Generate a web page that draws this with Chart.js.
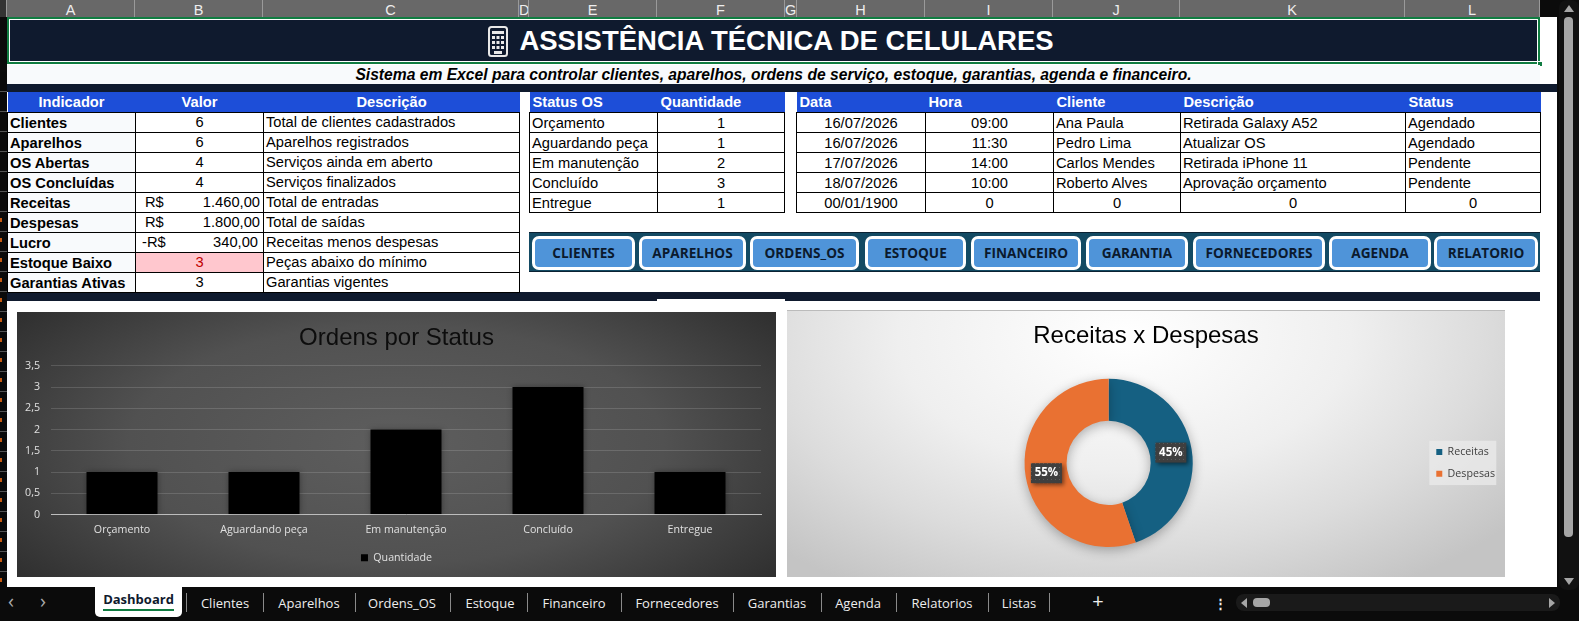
<!DOCTYPE html>
<html lang="pt-BR">
<head>
<meta charset="utf-8">
<title>Assistência Técnica de Celulares</title>
<script src="https://cdn.jsdelivr.net/npm/chart.js@4"></script>
<style>
  html, body { margin: 0; padding: 0; background: #0b0b0b; overflow: hidden; }
  body { width: 1579px; height: 621px; position: relative; font-family: "Liberation Sans", Arial, sans-serif; color: #000; }
  .abs { position: absolute; }
  #sheet { left: 7px; top: 17px; width: 1550px; height: 570px; background: #fff; }
  #rowstrip { left: 0; top: 72px; width: 7px; height: 515px; background: repeating-linear-gradient(#0a0a0a 0 19px, #555 19px 20px); }
  #rowmarks { left: 0; top: 212px; width: 2px; height: 375px; background: repeating-linear-gradient(transparent 0 6px, #c55a11 6px 10px, transparent 10px 20px); }
  .colhead { position: absolute; top: 0; height: 17px; background: #686868; border-right: 1px solid #9a9a9a; box-sizing: border-box; color: #eee; font-size: 14.5px; line-height: 20px; text-align: center; overflow: hidden; }
  #titlebar { left: 7px; top: 17px; width: 1533px; height: 47px; box-sizing: border-box; padding-right: 5px; background: #0f1a2e; border: 2px solid #107c41; outline: 1px solid #fff; outline-offset: -3px; color: #fff; font-weight: bold; font-size: 27.5px; line-height: 43px; text-align: center; }
  #titlebar svg { vertical-align: -7px; margin-right: 11px; }
  #handle { left: 1537px; top: 61px; width: 6px; height: 6px; background: #107c41; border: 1px solid #fff; box-sizing: border-box; }
  #subtitle { left: 7px; top: 65px; width: 1533px; height: 19px; background: #f8fafc; font-weight: bold; font-style: italic; font-size: 15.65px; line-height: 19px; text-align: center; }
  .navy { background: #0f1a2e; }
  table { position: absolute; border-collapse: collapse; table-layout: fixed; font-size: 14.7px; }
  th { background: #1d4ed8; color: #fff; font-weight: bold; height: 20px; padding: 0 3px; text-align: left; line-height: 19px; }
  th.c { text-align: center; }
  td { border: 1px solid #000; height: 19px; padding: 0 2px; line-height: 19px; white-space: nowrap; overflow: hidden; }
  td.c { text-align: center; }
  td.k { font-weight: bold; background: #f8fafc; }
  td.low { background: #ffc7ce; color: #c00000; }
  td.money { padding: 0 3px 0 9px; }
  td.neg { padding: 0 5px 0 6px; }
  #kpi td.k, #status td, #agenda td { padding-top: 2px; line-height: 17px; height: 17px; }
  .cur { float: left; }
  .amt { float: right; }
  #btnstrip { left: 529px; top: 232px; width: 1011px; height: 40px; background: #134a63; border-top: 1px solid #0b2233; border-bottom: 1px solid #0b2233; box-sizing: border-box; }
  .btn { position: absolute; top: 236px; height: 34px; box-sizing: border-box; background: #4f94d9; border: 3px solid #fff; border-radius: 7px; color: #0b1a2e; font-family: "Open Sans", sans-serif; font-weight: bold; font-size: 13.6px; line-height: 27px; text-align: center; }
  .chartbox { position: absolute; }
  .chartbox canvas { display: block; }
  #box1 { left: 17px; top: 312px; width: 759px; height: 265px; background: radial-gradient(ellipse 64% 82% at 50% 50%, #5e5e5e 0%, #515151 55%, #2e2e2e 100%); }
  #box2 { left: 787px; top: 310px; width: 718px; height: 267px; background: radial-gradient(ellipse 70% 110% at 47% 10%, #ffffff 0%, #efefef 45%, #dcdcdc 72%, #c4c4c4 100%); border-top: 1px solid #bbb; box-sizing: border-box; }
  #tabs { left: 0; top: 587px; width: 1579px; height: 34px; background: #0b0b0b; font-family: "Open Sans", sans-serif; font-size: 13px; color: #eee; }
  .tab { position: absolute; top: 7px; transform: translateX(-50%); line-height: 18px; white-space: nowrap; }
  .sep { position: absolute; top: 6px; width: 1px; height: 19px; background: #8a8a8a; }
  #activetab { position: absolute; left: 95px; top: 0; width: 87px; height: 30px; background: #fff; border-radius: 0 0 5px 5px; color: #0f1a2e; font-weight: bold; text-align: center; line-height: 18px; padding-top: 3px; box-sizing: border-box; }
  #activetab i { position: absolute; left: 8px; right: 8px; top: 22px; height: 2px; background: #107c41; }
  #hscroll { left: 1236px; top: 594px; width: 324px; height: 17px; background: #1a1a1a; border-radius: 8px; }
  #hthumb { left: 1253px; top: 598px; width: 17px; height: 9px; background: #a6a6a6; border-radius: 4px; }
  #vscroll { left: 1559px; top: 0; width: 20px; height: 590px; background: #111; border-radius: 8px; }
  #vthumb { left: 1564px; top: 17px; width: 9px; height: 520px; background: #a6a6a6; border-radius: 4px; }
  .tri { position: absolute; width: 0; height: 0; border-style: solid; border-color: transparent; }
</style>
</head>
<body>
<div class="abs" id="sheet"></div>
<div class="abs" id="rowstrip"></div>
<div class="abs" id="rowmarks"></div>
<div id="colheads"></div>
<div class="abs" id="titlebar"><svg width="20" height="31" viewBox="0 0 20 31"><rect x="1" y="1" width="18" height="29" rx="2.5" fill="#0f1a2e" stroke="#e8e8e8" stroke-width="2"/><path d="M4 5h12v3H4zM4 10h3v3H4zM8.500 10h3v3h-3zM13 10h3v3h-3zM4 15h3v3H4zM8.500 15h3v3h-3zM13 15h3v3h-3zM4 20h3v3H4zM8.500 20h3v3h-3zM13 20h3v3h-3z" fill="#e8e8e8"/><rect x="6" y="25" width="8" height="3" fill="#e8e8e8"/></svg><span id="titletext">ASSISTÊNCIA TÉCNICA DE CELULARES</span></div>
<div class="abs" id="handle"></div>
<div class="abs" id="subtitle">Sistema em Excel para controlar clientes, aparelhos, ordens de serviço, estoque, garantias, agenda e financeiro.</div>
<div class="abs navy" style="left:7px;top:84px;width:1550px;height:8px"></div>
<div class="abs navy" style="left:7px;top:292px;width:1533px;height:9px"></div>
<div class="abs" style="left:657px;top:299px;width:128px;height:2px;background:#fff"></div>

<table id="kpi" style="left:7px;top:92px;width:512px"></table>
<table id="status" style="left:529px;top:92px;width:255px"></table>
<table id="agenda" style="left:796px;top:92px;width:744px"></table>
<div class="abs" id="btnstrip"></div>
<div id="btns"></div>

<div class="chartbox" id="box1"><canvas id="barChart" width="759" height="265"></canvas></div>
<div class="chartbox" id="box2"><canvas id="donutChart" width="718" height="266"></canvas></div>

<div class="abs" id="tabs"><div id="activetab">Dashboard<i></i></div></div>
<div class="abs" id="hscroll"></div>
<div class="abs" id="hthumb"></div>
<div class="abs" id="vscroll"></div>
<div class="abs" id="vthumb"></div>
<div class="tri" style="left:1241px;top:598px;border-width:5px 6px 5px 0;border-right-color:#a6a6a6"></div>
<div class="tri" style="left:1549px;top:598px;border-width:5px 0 5px 6px;border-left-color:#a6a6a6"></div>
<div class="tri" style="left:1564px;top:5px;border-width:0 5px 7px 5px;border-bottom-color:#a6a6a6"></div>
<div class="tri" style="left:1564px;top:578px;border-width:7px 5px 0 5px;border-top-color:#a6a6a6"></div>

<script>
// Chart data
const statusLabels = ['Orçamento', 'Aguardando peça', 'Em manutenção', 'Concluído', 'Entregue'];
const statusValues = [1, 1, 2, 3, 1];
const financeLabels = ['Receitas', 'Despesas'];
const financeValues = [1460, 1800];

// Sheet cells
const columnNames = ['A', 'B', 'C', 'D', 'E', 'F', 'G', 'H', 'I', 'J', 'K', 'L'];
const columnEdges = [7, 135, 263, 519, 529, 657, 785, 797, 925, 1053, 1180, 1405, 1540];
const kpiNames = ['Clientes', 'Aparelhos', 'OS Abertas', 'OS Concluídas', 'Receitas', 'Despesas', 'Lucro', 'Estoque Baixo', 'Garantias Ativas'];
const kpiValues = ['6', '6', '4', '4', ['R$', '1.460,00'], ['R$', '1.800,00'], ['-R$', '340,00'], '3', '3'];
const kpiNotes = ['Total de clientes cadastrados', 'Aparelhos registrados', 'Serviços ainda em aberto', 'Serviços finalizados', 'Total de entradas', 'Total de saídas', 'Receitas menos despesas', 'Peças abaixo do mínimo', 'Garantias vigentes'];
const agendaDates = ['16/07/2026', '16/07/2026', '17/07/2026', '18/07/2026', '00/01/1900'];
const agendaHours = ['09:00', '11:30', '14:00', '10:00', '0'];
const agendaClients = ['Ana Paula', 'Pedro Lima', 'Carlos Mendes', 'Roberto Alves', '0'];
const agendaNotes = ['Retirada Galaxy A52', 'Atualizar OS', 'Retirada iPhone 11', 'Aprovação orçamento', '0'];
const agendaStatus = ['Agendado', 'Agendado', 'Pendente', 'Pendente', '0'];
const buttonNames = ['CLIENTES', 'APARELHOS', 'ORDENS_OS', 'ESTOQUE', 'FINANCEIRO', 'GARANTIA', 'FORNECEDORES', 'AGENDA', 'RELATORIO'];
const buttonEdges = [[532, 635], [639, 746], [750, 859], [865, 966], [971, 1081], [1086, 1188], [1193, 1325], [1329, 1431], [1434, 1538]];
const tabNames = ['Clientes', 'Aparelhos', 'Ordens_OS', 'Estoque', 'Financeiro', 'Fornecedores', 'Garantias', 'Agenda', 'Relatorios', 'Listas'];
const tabCenters = [225, 309, 402, 490, 574, 677, 777, 858, 942, 1019];
const tabSeparators = [186, 263, 355, 450, 527, 621, 733, 821, 896, 988, 1049];

function colgroup(widths) {
  return '<colgroup>' + widths.map(w => `<col style="width:${w}px">`).join('') + '</colgroup>';
}

// Column letters
document.getElementById('colheads').innerHTML = columnNames.map((name, i) =>
  `<div class="colhead" style="left:${columnEdges[i]}px;width:${columnEdges[i + 1] - columnEdges[i]}px">${name}</div>`
).join('') + '<div class="colhead" style="left:0;width:7px;background:#333"></div>';

// Indicator table
document.getElementById('kpi').innerHTML = colgroup([128, 128, 256]) +
  '<tr><th class="c">Indicador</th><th class="c">Valor</th><th class="c">Descrição</th></tr>' +
  kpiNames.map((name, i) => {
    const v = kpiValues[i];
    const valueCell = Array.isArray(v)
      ? `<td class="money${v[0][0] === '-' ? ' neg' : ''}"><span class="cur">${v[0]}</span><span class="amt">${v[1]}</span></td>`
      : `<td class="c${name === 'Estoque Baixo' ? ' low' : ''}">${v}</td>`;
    return `<tr><td class="k">${name}</td>${valueCell}<td>${kpiNotes[i]}</td></tr>`;
  }).join('');

// Status table
document.getElementById('status').innerHTML = colgroup([128, 127]) +
  '<tr><th>Status OS</th><th>Quantidade</th></tr>' +
  statusLabels.map((name, i) => `<tr><td>${name}</td><td class="c">${statusValues[i]}</td></tr>`).join('');

// Agenda table
document.getElementById('agenda').innerHTML = colgroup([129, 128, 127, 225, 135]) +
  '<tr><th>Data</th><th>Hora</th><th>Cliente</th><th>Descrição</th><th>Status</th></tr>' +
  agendaDates.map((d, i) => {
    const zero = agendaClients[i] === '0' ? ' class="c"' : '';
    return `<tr><td class="c">${d}</td><td class="c">${agendaHours[i]}</td><td${zero}>${agendaClients[i]}</td><td${zero}>${agendaNotes[i]}</td><td${zero}>${agendaStatus[i]}</td></tr>`;
  }).join('');

// Navigation buttons
document.getElementById('btns').innerHTML = buttonNames.map((name, i) =>
  `<div class="btn" style="left:${buttonEdges[i][0]}px;width:${buttonEdges[i][1] - buttonEdges[i][0]}px">${name}</div>`
).join('');

// Sheet tabs
document.getElementById('tabs').insertAdjacentHTML('beforeend',
  tabNames.map((name, i) => `<div class="tab" style="left:${tabCenters[i]}px">${name}</div>`).join('') +
  tabSeparators.map(x => `<div class="sep" style="left:${x}px"></div>`).join('') +
  '<div class="tab" style="left:1098px;font-size:20px;top:5px">+</div>' +
  '<div class="tab" style="left:1220px;font-weight:bold;letter-spacing:0">⋮</div>' +
  '<div class="tab" style="left:11px;color:#aaa;font-size:20px;top:5px">‹</div><div class="tab" style="left:43px;color:#aaa;font-size:20px;top:5px">›</div>');

// Soft shadow under the marks, like the Excel chart style
const markShadow = {
  id: 'markShadow',
  beforeDatasetsDraw(chart, args, opts) {
    chart.ctx.save();
    chart.ctx.shadowColor = opts.color;
    chart.ctx.shadowBlur = opts.blur;
    chart.ctx.shadowOffsetY = opts.offsetY;
  },
  afterDatasetsDraw(chart) {
    chart.ctx.restore();
  }
};

// Dotted fill of the percent boxes
function dotPattern(ctx) {
  const tile = document.createElement('canvas');
  tile.width = tile.height = 4;
  const t = tile.getContext('2d');
  t.fillStyle = '#3f3f3f';
  t.fillRect(0, 0, 4, 4);
  t.fillStyle = '#5a5a5a';
  t.fillRect(0, 0, 1, 1);
  return ctx.createPattern(tile, 'repeat');
}

// Dark percent boxes on the doughnut slices + legend background
const donutExtras = {
  id: 'donutExtras',
  beforeDraw(chart) {
    const hits = chart.legend.legendHitBoxes;
    const last = hits[hits.length - 1];
    chart.ctx.save();
    chart.ctx.fillStyle = 'rgba(235,235,235,0.75)';
    chart.ctx.fillRect(hits[0].left - 7, hits[0].top - 6, 67, last.top + last.height - hits[0].top + 12);
    chart.ctx.restore();
  },
  afterDraw(chart) {
    const ctx = chart.ctx;
    const total = financeValues.reduce((a, b) => a + b, 0);
    chart.getDatasetMeta(0).data.forEach((arc, i) => {
      const p = arc.getCenterPoint();
      ctx.save();
      ctx.shadowColor = 'rgba(0,0,0,0.5)';
      ctx.shadowBlur = 4;
      ctx.shadowOffsetX = 2;
      ctx.shadowOffsetY = 2;
      ctx.fillStyle = dotPattern(ctx);
      ctx.fillRect(p.x - 15.5, p.y - 10, 31, 20);
      ctx.restore();
      ctx.fillStyle = '#fff';
      ctx.font = 'bold 11.5px "Open Sans", sans-serif';
      ctx.textAlign = 'center';
      ctx.textBaseline = 'middle';
      ctx.fillText(Math.round(financeValues[i] / total * 100) + '%', p.x, p.y);
    });
  }
};

const labelFont = { family: '"Open Sans", sans-serif', size: 10.67 };

// Empty axis used only as a spacer, so the title stays centred on the whole chart
function spacerAxis(position, width) {
  return {
    axis: 'y',
    type: 'linear',
    position: position,
    ticks: { display: false },
    grid: { display: false },
    border: { display: false },
    afterFit(scale) { scale.width = width; }
  };
}

new Chart(document.getElementById('barChart'), {
  type: 'bar',
  data: {
    labels: statusLabels,
    datasets: [{
      label: 'Quantidade',
      data: statusValues,
      backgroundColor: '#000',
      categoryPercentage: 1,
      barPercentage: 0.5
    }]
  },
  options: {
    responsive: false,
    animation: false,
    layout: { padding: { left: 8, right: 8, bottom: 4 } },
    scales: {
      x: {
        grid: { display: false, drawTicks: false },
        border: { color: '#bdbdbd', width: 1 },
        ticks: { color: '#e0e0e0', font: labelFont, padding: 9 }
      },
      y: {
        min: 0,
        max: 3.5,
        afterFit(scale) { scale.width = 26; },
        ticks: {
          stepSize: 0.5,
          color: '#e0e0e0',
          font: labelFont,
          padding: 11,
          callback: v => String(v).replace('.', ',')
        },
        grid: { color: 'rgba(255,255,255,0.14)', drawTicks: false },
        border: { display: false }
      },
      spacer: spacerAxis('right', 7)
    },
    plugins: {
      title: {
        display: true,
        text: 'Ordens por Status',
        color: '#0d0d0d',
        font: { family: '"Liberation Sans", Arial, sans-serif', size: 24, weight: 'normal' },
        padding: { top: 12, bottom: 13 }
      },
      legend: {
        position: 'bottom',
        labels: { color: '#e0e0e0', font: labelFont, boxWidth: 7, boxHeight: 7, padding: 7 }
      },
      tooltip: { enabled: false },
      markShadow: { color: 'rgba(0,0,0,0.35)', blur: 6, offsetY: 0 }
    }
  },
  plugins: [markShadow]
});

new Chart(document.getElementById('donutChart'), {
  type: 'doughnut',
  data: {
    labels: financeLabels,
    datasets: [{
      data: financeValues,
      backgroundColor: ['#156082', '#E97132'],
      borderWidth: 0
    }]
  },
  options: {
    responsive: false,
    animation: false,
    cutout: '50%',
    layout: { padding: { bottom: 30 } },
    scales: { spacer: spacerAxis('left', 5) },
    plugins: {
      title: {
        display: true,
        text: 'Receitas x Despesas',
        color: '#000',
        font: { family: '"Liberation Sans", Arial, sans-serif', size: 24, weight: 'normal' },
        padding: { top: 11, bottom: 28 }
      },
      legend: {
        position: 'right',
        fullSize: false,
        labels: { color: '#404040', font: labelFont, boxWidth: 6, boxHeight: 6, padding: 11 }
      },
      tooltip: { enabled: false },
      markShadow: { color: 'rgba(0,0,0,0.3)', blur: 12, offsetY: 3 }
    }
  },
  plugins: [markShadow, donutExtras]
});
</script>
</body>
</html>
